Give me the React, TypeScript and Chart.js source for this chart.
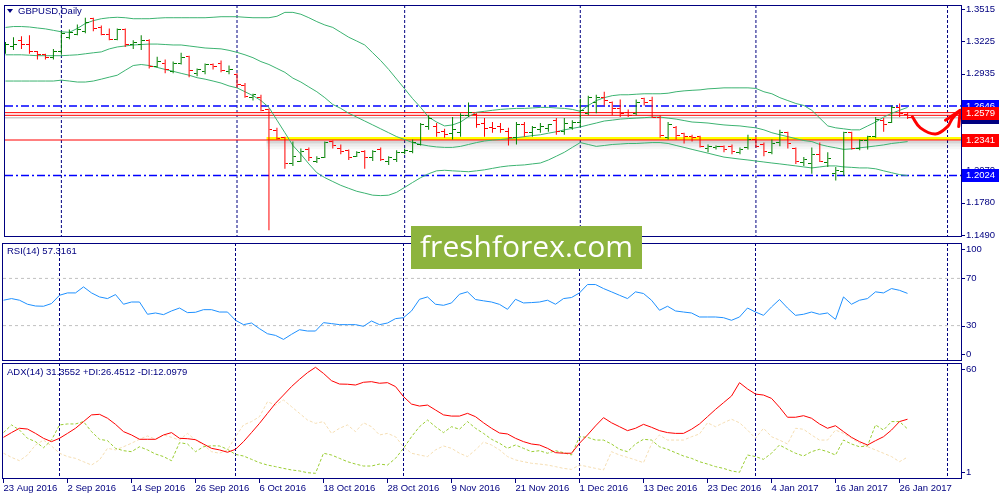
import React, { useEffect, useRef } from "react";
import { Chart, registerables } from "chart.js";

Chart.register(...registerables);

const FONT = '"Liberation Sans", Arial, sans-serif';
Chart.defaults.font.family = FONT;
Chart.defaults.font.size = 9.5;

const NAVY = "#000080";
const BULL = "#008000";
const BEAR = "#ff0000";

// x axis is the bar index (0 = 23 Aug 2016), 8px per bar, shifted half a pixel so 1px lines stay crisp
const X_MIN = -0.0625;
const X_MAX = 119.6875;
const PRICE_MIN = 1.14725;
const PRICE_MAX = 1.35499;

// GBPUSD daily bars
const opens = [
  1.3130, 1.3174, 1.3235, 1.3192, 1.3130, 1.3104, 1.3078, 1.3130, 1.3261, 1.3288,
  1.3314, 1.3427, 1.3349, 1.3288, 1.3244, 1.3331, 1.3192, 1.3192, 1.3235, 1.3000,
  1.3026, 1.2956, 1.3026, 1.3087, 1.2938, 1.2956, 1.3017, 1.3026, 1.2956, 1.2930,
  1.2825, 1.2720, 1.2720, 1.2615, 1.2423, 1.2362, 1.2127, 1.2153, 1.2257, 1.2153,
  1.2188, 1.2327, 1.2266, 1.2249, 1.2196, 1.2240, 1.2188, 1.2257, 1.2153, 1.2170,
  1.2231, 1.2240, 1.2301, 1.2458, 1.2458, 1.2415, 1.2397, 1.2406, 1.2563, 1.2572,
  1.2493, 1.2450, 1.2458, 1.2415, 1.2362, 1.2484, 1.2406, 1.2432, 1.2441, 1.2519,
  1.2415, 1.2450, 1.2502, 1.2580, 1.2677, 1.2720, 1.2677, 1.2624, 1.2589, 1.2580,
  1.2711, 1.2694, 1.2546, 1.2362, 1.2450, 1.2397, 1.2371, 1.2371, 1.2266, 1.2275,
  1.2284, 1.2284, 1.2231, 1.2275, 1.2345, 1.2301, 1.2231, 1.2318, 1.2406, 1.2266,
  1.2144, 1.2127, 1.2214, 1.2144, 1.2039, 1.2057, 1.2406, 1.2266, 1.2336, 1.2371,
  1.2519, 1.2502, 1.2633, 1.2572,
];
const highs = [
  1.3218, 1.3261, 1.3270, 1.3279, 1.3139, 1.3113, 1.3157, 1.3314, 1.3331, 1.3375,
  1.3436, 1.3436, 1.3366, 1.3340, 1.3340, 1.3340, 1.3235, 1.3279, 1.3244, 1.3087,
  1.3061, 1.3043, 1.3122, 1.3096, 1.2982, 1.3026, 1.3026, 1.3052, 1.3008, 1.2938,
  1.2851, 1.2755, 1.2746, 1.2624, 1.2450, 1.2371, 1.2327, 1.2266, 1.2275, 1.2196,
  1.2327, 1.2336, 1.2301, 1.2257, 1.2240, 1.2249, 1.2249, 1.2275, 1.2196, 1.2249,
  1.2266, 1.2345, 1.2493, 1.2563, 1.2493, 1.2441, 1.2546, 1.2580, 1.2677, 1.2580,
  1.2537, 1.2502, 1.2493, 1.2450, 1.2502, 1.2502, 1.2467, 1.2493, 1.2484, 1.2537,
  1.2537, 1.2519, 1.2711, 1.2738, 1.2746, 1.2773, 1.2685, 1.2703, 1.2615, 1.2703,
  1.2720, 1.2729, 1.2563, 1.2502, 1.2467, 1.2406, 1.2388, 1.2380, 1.2301, 1.2292,
  1.2292, 1.2301, 1.2275, 1.2388, 1.2371, 1.2318, 1.2345, 1.2432, 1.2415, 1.2275,
  1.2188, 1.2275, 1.2318, 1.2231, 1.2100, 1.2415, 1.2415, 1.2345, 1.2380, 1.2546,
  1.2537, 1.2650, 1.2668, 1.2589,
];
const lows = [
  1.3113, 1.3148, 1.3157, 1.3113, 1.3061, 1.3061, 1.3061, 1.3104, 1.3244, 1.3279,
  1.3296, 1.3314, 1.3279, 1.3235, 1.3235, 1.3174, 1.3157, 1.3148, 1.2982, 1.2991,
  1.2938, 1.2938, 1.3017, 1.2904, 1.2912, 1.2930, 1.2973, 1.2947, 1.2930, 1.2808,
  1.2720, 1.2694, 1.2598, 1.1533, 1.2345, 1.2083, 1.2109, 1.2144, 1.2153, 1.2135,
  1.2179, 1.2266, 1.2214, 1.2162, 1.2188, 1.2083, 1.2153, 1.2153, 1.2118, 1.2144,
  1.2214, 1.2223, 1.2292, 1.2432, 1.2371, 1.2362, 1.2345, 1.2371, 1.2546, 1.2450,
  1.2371, 1.2406, 1.2406, 1.2292, 1.2301, 1.2371, 1.2371, 1.2406, 1.2415, 1.2388,
  1.2388, 1.2432, 1.2458, 1.2563, 1.2580, 1.2650, 1.2563, 1.2546, 1.2546, 1.2563,
  1.2650, 1.2537, 1.2362, 1.2345, 1.2345, 1.2310, 1.2327, 1.2275, 1.2231, 1.2257,
  1.2231, 1.2214, 1.2214, 1.2257, 1.2275, 1.2196, 1.2214, 1.2284, 1.2266, 1.2127,
  1.2109, 1.2039, 1.2144, 1.2100, 1.1978, 1.2022, 1.2257, 1.2249, 1.2257, 1.2362,
  1.2415, 1.2493, 1.2546, 1.2528,
];
const closes = [
  1.3192, 1.3195, 1.3192, 1.3130, 1.3104, 1.3078, 1.3130, 1.3296, 1.3305, 1.3331,
  1.3392, 1.3340, 1.3288, 1.3244, 1.3331, 1.3192, 1.3218, 1.3235, 1.3000, 1.3043,
  1.2973, 1.3026, 1.3078, 1.2965, 1.2973, 1.3017, 1.3000, 1.2965, 1.2973, 1.2842,
  1.2729, 1.2746, 1.2607, 1.2432, 1.2353, 1.2127, 1.2196, 1.2240, 1.2188, 1.2179,
  1.2318, 1.2292, 1.2240, 1.2188, 1.2231, 1.2188, 1.2240, 1.2170, 1.2188, 1.2231,
  1.2249, 1.2318, 1.2476, 1.2537, 1.2406, 1.2388, 1.2432, 1.2563, 1.2589, 1.2476,
  1.2441, 1.2441, 1.2432, 1.2362, 1.2484, 1.2406, 1.2450, 1.2458, 1.2476, 1.2415,
  1.2493, 1.2502, 1.2607, 1.2720, 1.2720, 1.2694, 1.2624, 1.2580, 1.2563, 1.2677,
  1.2677, 1.2546, 1.2380, 1.2484, 1.2380, 1.2371, 1.2362, 1.2284, 1.2284, 1.2284,
  1.2257, 1.2240, 1.2257, 1.2345, 1.2284, 1.2240, 1.2310, 1.2406, 1.2310, 1.2153,
  1.2170, 1.2214, 1.2153, 1.2179, 1.2065, 1.2406, 1.2266, 1.2336, 1.2371, 1.2528,
  1.2476, 1.2633, 1.2580, 1.2546,
];

// Bollinger bands
const bbUpper = [
  1.3349, 1.3357, 1.3357, 1.3353, 1.3344, 1.3336, 1.3323, 1.3310, 1.3305, 1.3340,
  1.3384, 1.3410, 1.3427, 1.3436, 1.3440, 1.3436, 1.3427, 1.3427, 1.3427, 1.3432,
  1.3436, 1.3436, 1.3436, 1.3436, 1.3436, 1.3436, 1.3440, 1.3445, 1.3445, 1.3445,
  1.3440, 1.3436, 1.3436, 1.3436, 1.3449, 1.3484, 1.3484, 1.3467, 1.3436, 1.3401,
  1.3371, 1.3349, 1.3305, 1.3261, 1.3227, 1.3192, 1.3122, 1.3052, 1.2973, 1.2886,
  1.2799, 1.2711, 1.2633, 1.2546, 1.2502, 1.2467, 1.2476, 1.2502, 1.2550, 1.2589,
  1.2598, 1.2607, 1.2615, 1.2620, 1.2624, 1.2624, 1.2628, 1.2633, 1.2633, 1.2628,
  1.2624, 1.2615, 1.2598, 1.2650, 1.2694, 1.2720, 1.2738, 1.2746, 1.2746, 1.2751,
  1.2755, 1.2755, 1.2755, 1.2760, 1.2773, 1.2781, 1.2786, 1.2790, 1.2799, 1.2803,
  1.2808, 1.2808, 1.2808, 1.2808, 1.2803, 1.2773, 1.2755, 1.2720, 1.2694, 1.2668,
  1.2650, 1.2607, 1.2537, 1.2467, 1.2450, 1.2441, 1.2432, 1.2432, 1.2467, 1.2502,
  1.2546, 1.2580, 1.2607, 1.2633,
];
const bbMiddle = [
  1.3104, 1.3104, 1.3104, 1.3100, 1.3096, 1.3096, 1.3096, 1.3096, 1.3100, 1.3104,
  1.3113, 1.3122, 1.3130, 1.3157, 1.3174, 1.3183, 1.3192, 1.3196, 1.3200, 1.3200,
  1.3196, 1.3192, 1.3192, 1.3183, 1.3174, 1.3165, 1.3161, 1.3157, 1.3144, 1.3126,
  1.3104, 1.3078, 1.3043, 1.3017, 1.2982, 1.2947, 1.2895, 1.2860, 1.2816, 1.2773,
  1.2720, 1.2659, 1.2624, 1.2580, 1.2546, 1.2511, 1.2476, 1.2441, 1.2406, 1.2371,
  1.2345, 1.2318, 1.2301, 1.2288, 1.2279, 1.2275, 1.2275, 1.2284, 1.2301, 1.2318,
  1.2332, 1.2340, 1.2345, 1.2353, 1.2362, 1.2371, 1.2380, 1.2388, 1.2402, 1.2415,
  1.2432, 1.2445, 1.2458, 1.2476, 1.2493, 1.2511, 1.2519, 1.2528, 1.2533, 1.2537,
  1.2541, 1.2546, 1.2546, 1.2537, 1.2528, 1.2515, 1.2502, 1.2498, 1.2493, 1.2484,
  1.2476, 1.2471, 1.2467, 1.2458, 1.2450, 1.2432, 1.2406, 1.2388, 1.2371, 1.2353,
  1.2336, 1.2327, 1.2301, 1.2284, 1.2271, 1.2257, 1.2262, 1.2271, 1.2279, 1.2288,
  1.2297, 1.2310, 1.2318, 1.2327,
];
const bbLower = [
  1.2869, 1.2869, 1.2869, 1.2869, 1.2869, 1.2869, 1.2869, 1.2877, 1.2869, 1.2860,
  1.2860, 1.2869, 1.2886, 1.2904, 1.2921, 1.2965, 1.3008, 1.3017, 1.3008, 1.2991,
  1.2973, 1.2956, 1.2938, 1.2921, 1.2899, 1.2886, 1.2869, 1.2851, 1.2825, 1.2808,
  1.2773, 1.2738, 1.2694, 1.2633, 1.2519, 1.2406, 1.2292, 1.2214, 1.2127, 1.2048,
  1.2004, 1.1969, 1.1935, 1.1908, 1.1882, 1.1865, 1.1847, 1.1843, 1.1847, 1.1873,
  1.1917, 1.1961, 1.2004, 1.2039, 1.2065, 1.2070, 1.2065, 1.2061, 1.2057, 1.2065,
  1.2074, 1.2087, 1.2100, 1.2109, 1.2114, 1.2118, 1.2127, 1.2135, 1.2162, 1.2196,
  1.2231, 1.2275, 1.2318, 1.2301, 1.2284, 1.2292, 1.2301, 1.2305, 1.2310, 1.2310,
  1.2314, 1.2318, 1.2318, 1.2310, 1.2292, 1.2275, 1.2257, 1.2240, 1.2223, 1.2205,
  1.2188, 1.2179, 1.2170, 1.2162, 1.2153, 1.2144, 1.2135, 1.2127, 1.2118, 1.2109,
  1.2100, 1.2091, 1.2100, 1.2109, 1.2109, 1.2100, 1.2096, 1.2091, 1.2091, 1.2083,
  1.2065, 1.2048, 1.2031, 1.2022,
];

// RSI(14)
const rsi = [
  51.5, 52.9, 51.5, 48.1, 46.6, 46.4, 48.7, 55.7, 57.7, 57.7,
  62.8, 57.7, 54.3, 52.9, 56.3, 48.1, 50.0, 50.0, 39.6, 40.7,
  39.3, 42.4, 44.9, 41.0, 41.3, 43.5, 43.5, 41.5, 41.5, 34.5,
  30.8, 32.2, 27.4, 23.1, 21.7, 18.3, 22.6, 26.5, 25.4, 25.4,
  32.5, 31.7, 30.8, 30.8, 30.8, 29.4, 33.9, 30.8, 32.2, 35.9,
  36.7, 42.4, 52.3, 54.3, 48.1, 47.2, 49.2, 56.6, 58.6, 52.1,
  51.0, 50.0, 48.0, 43.8, 52.3, 49.2, 49.5, 50.0, 51.5, 48.1,
  52.9, 53.8, 57.7, 64.8, 64.8, 61.4, 58.6, 55.7, 52.9, 58.6,
  57.2, 51.5, 43.0, 46.4, 42.4, 41.5, 40.7, 37.3, 37.3, 37.3,
  36.7, 34.5, 37.3, 44.9, 41.5, 38.7, 45.8, 52.1, 44.9, 38.7,
  39.6, 41.5, 39.6, 40.7, 35.3, 54.3, 48.1, 51.5, 52.9, 58.6,
  57.7, 61.4, 59.9, 57.3,
];

// ADX(14), +DI, -DI
const adx = [
  22.2, 24.6, 26.8, 26.4, 24.2, 21.7, 20.0, 21.7, 24.2, 26.8,
  30.2, 33.6, 33.9, 31.9, 28.8, 25.1, 23.4, 21.2, 21.2, 21.2,
  23.4, 24.6, 21.7, 21.5, 21.0, 18.8, 16.6, 15.8, 14.6, 16.1,
  20.0, 24.6, 29.3, 34.4, 39.5, 43.7, 48.0, 51.7, 55.1, 57.8,
  54.7, 51.0, 49.3, 49.2, 48.8, 50.2, 50.5, 49.7, 50.0, 48.0,
  42.9, 39.1, 38.1, 38.6, 36.1, 33.6, 33.0, 33.0, 34.4, 32.7,
  29.6, 26.8, 24.4, 23.9, 21.7, 20.0, 18.8, 18.3, 16.6, 14.4,
  14.1, 14.1, 19.2, 23.4, 28.0, 32.2, 29.6, 27.6, 25.6, 26.8,
  28.8, 27.3, 25.6, 24.6, 24.2, 24.2, 26.3, 29.0, 32.7, 36.4,
  39.8, 43.2, 50.0, 46.8, 44.2, 43.7, 42.0, 37.5, 32.4, 32.4,
  33.2, 31.9, 29.0, 26.8, 28.1, 25.1, 22.2, 20.0, 18.3, 20.5,
  22.5, 25.9, 30.2, 31.4,
];
const plusDi = [
  24.6, 28.5, 25.9, 21.7, 20.0, 16.9, 20.8, 28.5, 29.0, 29.0,
  30.2, 25.1, 21.2, 20.5, 16.6, 15.4, 14.9, 17.4, 15.8, 13.7,
  12.4, 10.3, 19.5, 18.8, 14.9, 17.4, 17.9, 17.8, 16.1, 13.5,
  12.7, 11.0, 9.3, 8.1, 7.3, 6.4, 5.6, 5.1, 4.2, 3.9,
  14.1, 13.2, 11.5, 9.8, 8.6, 7.6, 7.6, 8.6, 8.1, 11.5,
  16.6, 22.5, 27.6, 31.0, 27.6, 24.6, 27.6, 26.3, 30.2, 26.8,
  24.2, 21.2, 19.2, 16.6, 18.3, 16.6, 14.9, 15.4, 14.1, 15.4,
  14.4, 13.2, 22.5, 22.2, 20.8, 20.8, 18.8, 16.1, 14.9, 18.8,
  21.2, 20.8, 17.4, 16.1, 14.4, 12.7, 11.5, 9.8, 8.6, 7.3,
  6.4, 5.1, 4.4, 13.2, 12.4, 11.0, 14.1, 18.3, 16.1, 14.1,
  12.7, 14.9, 16.1, 14.9, 13.2, 20.8, 18.8, 17.4, 17.8, 28.5,
  25.9, 30.2, 30.2, 26.5,
];
const minusDi = [
  14.1, 12.0, 10.3, 13.2, 18.3, 20.8, 17.8, 14.1, 12.4, 11.5,
  9.8, 8.1, 10.7, 16.6, 15.8, 17.4, 19.2, 21.2, 22.9, 21.2,
  23.4, 22.2, 20.8, 24.2, 20.8, 18.3, 14.9, 14.1, 15.8, 22.5,
  28.5, 30.2, 32.7, 40.3, 38.6, 41.2, 37.8, 34.4, 31.0, 29.3,
  30.2, 24.2, 26.8, 28.5, 25.1, 29.6, 27.6, 23.4, 24.2, 22.5,
  17.4, 14.1, 13.2, 12.4, 15.8, 17.8, 16.6, 14.1, 12.4, 15.8,
  19.8, 18.3, 15.8, 12.4, 10.7, 9.8, 9.0, 8.6, 8.1, 7.3,
  6.4, 5.9, 8.1, 7.3, 6.4, 5.6, 14.9, 13.2, 12.0, 10.7,
  9.3, 18.8, 23.4, 20.8, 20.8, 20.8, 22.5, 23.9, 29.6, 27.6,
  29.6, 31.4, 29.6, 25.9, 21.7, 26.8, 22.5, 20.8, 18.8, 26.8,
  26.3, 23.4, 20.8, 20.8, 25.9, 24.2, 21.7, 19.2, 17.4, 15.8,
  14.1, 12.4, 9.8, 12.1,
];

// time axis
const dateTickBars = [0, 8, 16, 24, 32, 40, 48, 56, 64, 72, 80, 88, 96, 104, 112];
const dateTickLabels = [
  "23 Aug 2016", "2 Sep 2016", "14 Sep 2016", "26 Sep 2016", "6 Oct 2016",
  "18 Oct 2016", "28 Oct 2016", "9 Nov 2016", "21 Nov 2016", "1 Dec 2016",
  "13 Dec 2016", "23 Dec 2016", "4 Jan 2017", "16 Jan 2017", "26 Jan 2017",
];
const monthStartBars = [7, 29, 50, 72, 94, 118];

// value axes
const priceTicks = [1.3515, 1.3225, 1.2935, 1.2645, 1.2355, 1.207, 1.178, 1.149];
const rsiTicks = [100, 70, 30, 0];
const rsiLevels = [70, 30];
const adxTicks = [60, 1];

// objects drawn on the price chart
const blueLevels = [1.2646, 1.2024];
const redLevels = [1.2586, 1.2562, 1.2341];
const bidPrice = 1.2541;
const zoneStartBar = 32.7;
const zonePrice = 1.2355;
const zoneShadow = [1.2323, 1.2297, 1.2271];
const zoneShadowAlpha = [0.16, 0.08, 0.035];

const priceTags = [
  { value: 1.2646, text: "1.2646", bg: "#0000ff" },
  { value: 1.2544, text: "1.2544", bg: NAVY },
  { value: 1.2579, text: "1.2579", bg: "#ff0000" },
  { value: 1.2341, text: "1.2341", bg: "#ff0000" },
  { value: 1.2024, text: "1.2024", bg: "#0000ff" },
];

// hand drawn arrow (bar index, price)
const arrowBars = [113.6, 114.6, 116.5, 118, 118.6, 119.6];
const arrowPrices = [1.2548, 1.245, 1.2395, 1.2461, 1.2534, 1.2607];
const arrowHeadBars = [117.75, 119.6, 119.4];
const arrowHeadPrices = [1.2519, 1.2607, 1.2461];

const pts = (ys: number[]) => ys.map((y, x) => ({ x, y }));
const pairs = (xs: number[], ys: number[]) => xs.map((x, i) => ({ x, y: ys[i] }));
const hline = (y: number, from: number = X_MIN) => [
  { x: from, y },
  { x: X_MAX, y },
];
const isUp = (i: number) => closes[i] >= opens[i];

function tickImage(color: string, open: boolean) {
  const c = document.createElement("canvas");
  c.width = 7;
  c.height = 1;
  const g = c.getContext("2d")!;
  g.fillStyle = color;
  g.fillRect(open ? 0 : 4, 0, 3, 1);
  return c;
}

type Tag = { value: number; text: string; bg: string };

function panelPlugin(
  yTicks: number[],
  fmt: (v: number) => string,
  clampLabels: boolean,
  tags: Tag[] = [],
) {
  return {
    id: "mtPanel",
    beforeDatasetsDraw(chart: any) {
      const { ctx, chartArea: a } = chart;
      const x = chart.scales.x;
      ctx.save();
      ctx.strokeStyle = NAVY;
      ctx.lineWidth = 1;
      ctx.setLineDash([3, 2]);
      ctx.beginPath();
      monthStartBars.forEach((b) => {
        const px = x.getPixelForValue(b);
        ctx.moveTo(px, a.top);
        ctx.lineTo(px, a.bottom);
      });
      ctx.stroke();
      ctx.restore();
    },
    afterDraw(chart: any) {
      const { ctx, chartArea: a } = chart;
      const y = chart.scales.y;
      ctx.save();
      ctx.strokeStyle = NAVY;
      ctx.lineWidth = 1;
      ctx.strokeRect(a.left - 0.5, a.top + 0.5, a.right - a.left + 1, a.bottom - a.top - 1);
      ctx.font = `9.5px ${FONT}`;
      ctx.textBaseline = "middle";
      ctx.textAlign = "left";
      ctx.fillStyle = NAVY;
      yTicks.forEach((v) => {
        let py = y.getPixelForValue(v);
        if (clampLabels) py = Math.min(Math.max(py, a.top + 6), a.bottom - 7);
        ctx.beginPath();
        ctx.moveTo(a.right + 1, Math.round(py) + 0.5);
        ctx.lineTo(a.right + 4, Math.round(py) + 0.5);
        ctx.stroke();
        ctx.fillText(fmt(v), a.right + 5, py);
      });
      tags.forEach((t) => {
        const py = Math.round(y.getPixelForValue(t.value));
        ctx.fillStyle = t.bg;
        ctx.fillRect(a.right + 1, py - 6, 37, 13);
        ctx.fillStyle = "#ffffff";
        ctx.fillText(t.text, a.right + 5, py + 0.5);
      });
      ctx.restore();
    },
  };
}

function baseOptions(yMin: number, yMax: number, padding: any) {
  return {
    animation: false,
    responsive: false,
    events: [],
    layout: { padding },
    plugins: { legend: { display: false }, tooltip: { enabled: false } },
    scales: {
      x: { type: "linear", min: X_MIN, max: X_MAX, offset: false, display: false },
      y: { type: "linear", min: yMin, max: yMax, display: false },
    },
  } as any;
}

const flat = { type: "line", pointRadius: 0, tension: 0 } as const;

export default function App() {
  const priceRef = useRef<HTMLCanvasElement>(null);
  const rsiRef = useRef<HTMLCanvasElement>(null);
  const adxRef = useRef<HTMLCanvasElement>(null);

  useEffect(() => {
    document.body.style.margin = "0";
    if (!priceRef.current || !rsiRef.current || !adxRef.current) return;

    const openUp = tickImage(BULL, true);
    const openDown = tickImage(BEAR, true);
    const closeUp = tickImage(BULL, false);
    const closeDown = tickImage(BEAR, false);

    const band = { ...flat, borderColor: "#3cb371", borderWidth: 1, order: 3 };

    const priceChart = new Chart(priceRef.current, {
      type: "line",
      data: {
        datasets: [
          {
            ...flat,
            data: pairs(arrowBars, arrowPrices),
            borderColor: "#ff0000",
            borderWidth: 3,
            tension: 0.4,
            borderCapStyle: "round",
            order: 0,
          },
          {
            ...flat,
            data: pairs(arrowHeadBars, arrowHeadPrices),
            borderColor: "#ff0000",
            borderWidth: 3,
            borderCapStyle: "round",
            borderJoinStyle: "round",
            order: 0,
          },
          {
            type: "scatter",
            data: pts(opens),
            pointStyle: (c: any) => (isUp(c.dataIndex) ? openUp : openDown),
            pointRadius: 3,
            order: 1,
          },
          {
            type: "scatter",
            data: pts(closes),
            pointStyle: (c: any) => (isUp(c.dataIndex) ? closeUp : closeDown),
            pointRadius: 3,
            order: 1,
          },
          {
            type: "bar",
            data: highs.map((h, i) => ({ x: i, y: [lows[i], h] })),
            backgroundColor: (c: any) => (isUp(c.dataIndex) ? BULL : BEAR),
            barThickness: 1,
            inflateAmount: 0,
            borderWidth: 0,
            order: 2,
          },
          { ...band, data: pts(bbUpper) },
          { ...band, data: pts(bbMiddle) },
          { ...band, data: pts(bbLower) },
          ...blueLevels.map((v) => ({
            ...flat,
            data: hline(v),
            borderColor: "#0000ff",
            borderWidth: 1.5,
            borderDash: [8, 3, 2, 3],
            order: 4,
          })),
          ...redLevels.map((v) => ({
            ...flat,
            data: hline(v),
            borderColor: "#ff0000",
            borderWidth: 1,
            order: 4,
          })),
          { ...flat, data: hline(bidPrice), borderColor: "#cccccc", borderWidth: 1.5, order: 5 },
          {
            ...flat,
            data: hline(zonePrice, zoneStartBar),
            borderColor: "#ffff00",
            borderWidth: 3,
            order: 5,
          },
          ...zoneShadow.map((v, i) => ({
            ...flat,
            data: hline(v, zoneStartBar),
            borderColor: `rgba(0,0,0,${zoneShadowAlpha[i]})`,
            borderWidth: 3,
            order: 6,
          })),
        ] as any,
      },
      options: baseOptions(PRICE_MIN, PRICE_MAX, { left: 3, right: 39, top: 2, bottom: 2 }),
      plugins: [panelPlugin(priceTicks, (v) => v.toFixed(4), false, priceTags)],
    });

    const rsiChart = new Chart(rsiRef.current, {
      type: "line",
      data: {
        datasets: [
          { ...flat, data: pts(rsi), borderColor: "#1e90ff", borderWidth: 1, order: 0 },
          ...rsiLevels.map((v) => ({
            ...flat,
            data: hline(v),
            borderColor: "#c0c0c0",
            borderWidth: 1,
            borderDash: [3, 3],
            order: 1,
          })),
        ] as any,
      },
      options: baseOptions(0, 100, { left: 3, right: 39, top: 1, bottom: 1 }),
      plugins: [panelPlugin(rsiTicks, (v) => String(v), true)],
    });

    const adxOptions = baseOptions(1, 60, { left: 3, right: 39, top: 1, bottom: 0 });
    adxOptions.scales.x = {
      type: "linear",
      min: X_MIN,
      max: X_MAX,
      offset: false,
      position: "bottom",
      afterBuildTicks: (s: any) => {
        s.ticks = dateTickBars.map((value) => ({ value }));
      },
      afterFit: (s: any) => {
        s.height = 21;
      },
      ticks: {
        autoSkip: false,
        maxRotation: 0,
        minRotation: 0,
        align: "start",
        padding: 0,
        color: NAVY,
        font: { size: 9.5 },
        callback: (v: any) => dateTickLabels[dateTickBars.indexOf(Number(v))] ?? "",
      },
      grid: {
        display: true,
        drawOnChartArea: false,
        drawTicks: true,
        tickLength: 4,
        color: NAVY,
        lineWidth: 1,
      },
      border: { display: false },
    };

    const adxChart = new Chart(adxRef.current, {
      type: "line",
      data: {
        datasets: [
          { ...flat, data: pts(adx), borderColor: "#ff0000", borderWidth: 1, order: 0 },
          {
            ...flat,
            data: pts(plusDi),
            borderColor: "#9acd32",
            borderWidth: 1,
            borderDash: [3, 2],
            order: 1,
          },
          {
            ...flat,
            data: pts(minusDi),
            borderColor: "#f5deb3",
            borderWidth: 1,
            borderDash: [3, 2],
            order: 2,
          },
        ] as any,
      },
      options: adxOptions,
      plugins: [panelPlugin(adxTicks, (v) => String(v), true)],
    });

    return () => {
      priceChart.destroy();
      rsiChart.destroy();
      adxChart.destroy();
    };
  }, []);

  const label = (left: number, top: number): React.CSSProperties => ({
    position: "absolute",
    left,
    top,
    fontSize: "9.5px",
    lineHeight: "11px",
    color: NAVY,
    whiteSpace: "nowrap",
  });

  return (
    <div
      style={{
        position: "relative",
        width: 1000,
        height: 500,
        background: "#ffffff",
        overflow: "hidden",
        fontFamily: FONT,
      }}
    >
      <canvas ref={priceRef} width={1000} height={242} style={{ position: "absolute", left: 0, top: 0 }} />
      <canvas ref={rsiRef} width={1000} height={120} style={{ position: "absolute", left: 0, top: 242 }} />
      <canvas ref={adxRef} width={1000} height={138} style={{ position: "absolute", left: 0, top: 362 }} />

      <div
        style={{
          position: "absolute",
          left: 7,
          top: 9,
          width: 0,
          height: 0,
          borderLeft: "3px solid transparent",
          borderRight: "3px solid transparent",
          borderTop: "4px solid " + NAVY,
        }}
      />
      <div style={label(18, 5)}>GBPUSD,Daily</div>
      <div style={label(7, 245)}>RSI(14) 57.3161</div>
      <div style={label(7, 366)}>ADX(14) 31.3552 +DI:26.4512 -DI:12.0979</div>

      <div
        style={{
          position: "absolute",
          left: 411,
          top: 226,
          width: 231,
          height: 43,
          background: "#8db43e",
          color: "#ffffff",
          fontFamily: '"Open Sans", sans-serif',
          fontSize: "30px",
          lineHeight: "39px",
          textAlign: "center",
        }}
      >
        freshforex.com
      </div>
    </div>
  );
}
